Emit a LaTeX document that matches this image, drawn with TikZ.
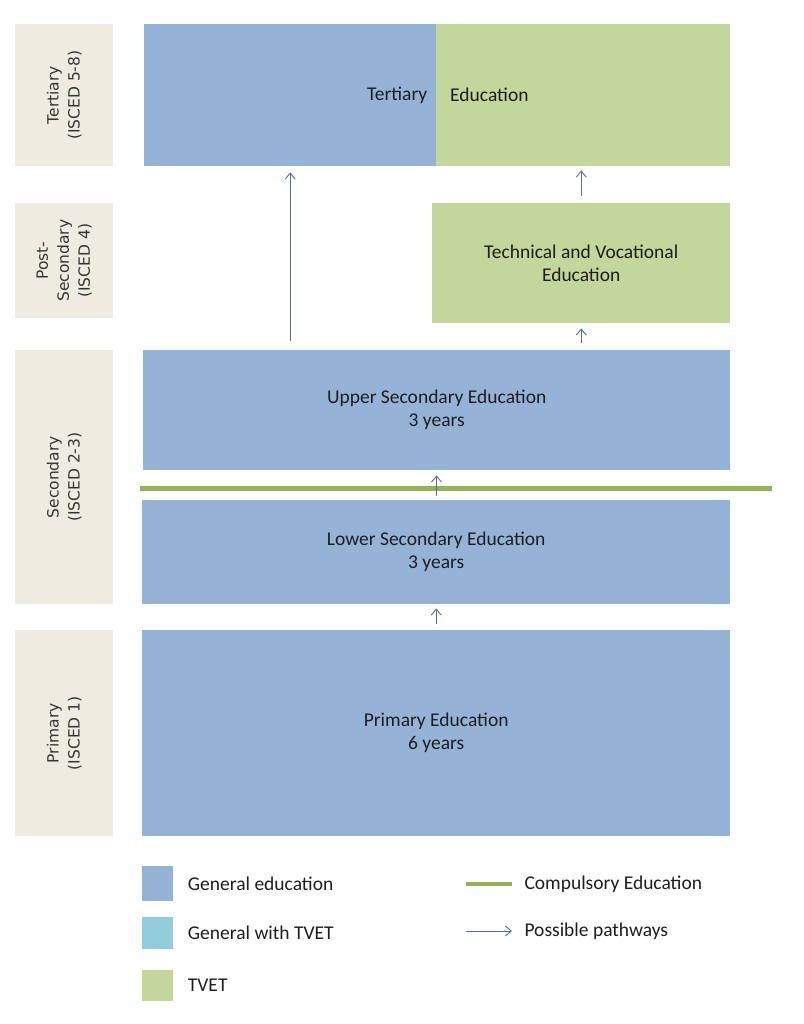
\documentclass[tikz,border=0pt]{standalone}
\usepackage{fontspec}
\setmainfont{Carlito}
\newfontfamily\labfont{DejaVu Sans}
\usetikzlibrary{arrows.meta,calc}
\definecolor{genblue}{HTML}{95B3D7}
\definecolor{tvgreen}{HTML}{C3D69B}
\definecolor{labbg}{HTML}{EEECE1}
\definecolor{ltblue}{HTML}{92CDDC}
\definecolor{compline}{HTML}{93B456}
\definecolor{arrcol}{HTML}{52719A}
\definecolor{txt}{HTML}{1E1E1E}
\tikzset{
  box/.style={draw=none, inner sep=0pt, anchor=north west, text=txt, font=\fontsize{19.5}{23}\selectfont, align=center},
  lab/.style={fill=labbg, inner sep=0pt, anchor=north west, minimum width=98pt},
  labtext/.style={rotate=90, text=txt!90, font=\labfont\fontsize{15.5}{21}\selectfont, align=center},
  path/.style={draw=arrcol, line width=0.9pt, -{Straight Barb[length=6pt,width=10pt]}},
  legsq/.style={inner sep=0pt, anchor=north west, minimum width=31pt},
  legtext/.style={anchor=west, text=txt, font=\fontsize{19.5}{22}\selectfont},
}
\begin{document}
\begin{tikzpicture}[x=1pt,y=-1pt]
\useasboundingbox[fill=white] (0,0) rectangle (803,1024);
% level labels
\node[lab, minimum height=142pt] (l1) at (15,24) {};
\node[labtext] at (l1.center) {Tertiary\\(ISCED 5-8)};
\node[lab, minimum height=115pt] (l2) at (15,203) {};
\node[labtext] at (l2.center) {Post-\\Secondary\\(ISCED 4)};
\node[lab, minimum height=254pt] (l3) at (15,350) {};
\node[labtext] at (l3.center) {Secondary\\(ISCED 2-3)};
\node[lab, minimum height=206pt] (l4) at (15,630) {};
\node[labtext] at (l4.center) {Primary\\(ISCED 1)};
% boxes
\node[box, fill=genblue, minimum width=292pt, minimum height=142pt] (tb) at (144,24) {};
\node[box, fill=tvgreen, minimum width=294pt, minimum height=142pt] (tg) at (436,24) {};
\node[anchor=east, text=txt, font=\fontsize{19.5}{23}\selectfont, inner sep=0pt] (tt1) at ([xshift=-9pt]tb.east) {Tertiary};
\node[anchor=west, text=txt, font=\fontsize{19.5}{23}\selectfont, inner sep=0pt] (tt2) at ([xshift=14pt]tg.west) {Education};
\node[box, fill=tvgreen, minimum width=298pt, minimum height=120pt] (tech) at (432,203) {Technical and Vocational\\Education};
\node[box, fill=genblue, minimum width=587pt, minimum height=120pt] (up) at (143,350) {Upper Secondary Education\\3 years};
\node[box, fill=genblue, minimum width=588pt, minimum height=104pt] (low) at (142,500) {Lower Secondary Education\\3 years};
\node[box, fill=genblue, minimum width=588pt, minimum height=206pt] (prim) at (142,630) {Primary Education\\6 years};
% compulsory line
\coordinate (cl1) at (140,488);
\coordinate (cl2) at (772,488);
\draw[compline, line width=5pt] (cl1) -- (cl2);
% pathways
\draw[path, shorten <=9pt, shorten >=6pt] (tb.south |- up.north) -- (tb.south);
\draw[path, shorten <=7pt, shorten >=4pt] (tech.north) -- (tech.north |- tg.south);
\draw[path, shorten <=7pt, shorten >=5pt] (tech.south |- up.north) -- (tech.south);
\draw[path, shorten <=4pt, shorten >=5pt] (low.north) -- (up.south);
\draw[path, shorten <=6pt, shorten >=4pt] (prim.north) -- (low.south);
% legend
\node[legsq, fill=genblue, minimum height=35pt] (sq1) at (142,866) {};
\node[legtext] (lt1) at ([xshift=11pt]sq1.east) {General education};
\node[legsq, fill=ltblue, minimum height=32pt] (sq2) at (142,917) {};
\node[legtext] (lt2) at ([xshift=11pt]sq2.east) {General with TVET};
\node[legsq, fill=tvgreen, minimum height=31pt] (sq3) at (142,970) {};
\node[legtext] (lt3) at ([xshift=11pt]sq3.east) {TVET};
\coordinate (lc1) at (466,884);
\coordinate (lc2) at (512,884);
\draw[compline, line width=4pt] (lc1) -- (lc2);
\node[legtext] (lt4) at ([xshift=9pt]lc2) {Compulsory Education};
\coordinate (la1) at (466,931);
\coordinate (la2) at (512,931);
\draw[path] (la1) -- (la2);
\node[legtext] (lt5) at ([xshift=9pt]la2) {Possible pathways};
\end{tikzpicture}
\end{document}
